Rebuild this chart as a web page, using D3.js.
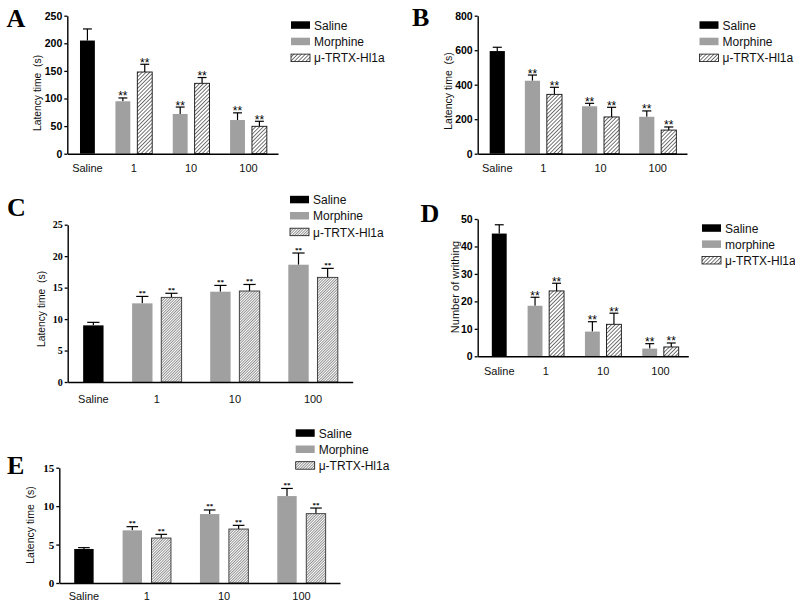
<!DOCTYPE html>
<html><head><meta charset="utf-8">
<script src="https://cdn.jsdelivr.net/npm/d3@7"></script>
<style>body{margin:0;background:#fff}svg{display:block}</style>
</head><body>
<script>
// ---------- DATA ----------
const doses = ["Saline", "1", "10", "100"];
const seriesNames = ["Saline", "Morphine", "μ-TRTX-Hl1a"];
const seriesNamesD = ["Saline", "morphine", "μ-TRTX-Hl1a"];

// Panel A (latency, s)
const A_saline = [205], A_salineErr = [21];
const A_morphine = [95, 72, 61], A_morphineErr = [6, 12.5, 13];
const A_hi1a = [148, 127.5, 49.6], A_hi1aErr = [14, 10.5, 9.1];
const A_ticks = [0, 50, 100, 150, 200, 250];

// Panel B (latency, s)
const B_saline = [595], B_salineErr = [22];
const B_morphine = [423, 275, 214], B_morphineErr = [33, 17, 34];
const B_hi1a = [344, 213, 137], B_hi1aErr = [41, 56, 18];
const B_ticks = [0, 200, 400, 600, 800];

// Panel C (latency, s)
const C_saline = [9.0], C_salineErr = [0.48];
const C_morphine = [12.5, 14.35, 18.64], C_morphineErr = [1.1, 1.0, 1.86];
const C_hi1a = [13.45, 14.46, 16.63], C_hi1aErr = [0.65, 1.04, 1.43];
const C_ticks = [0, 5, 10, 15, 20, 25];

// Panel D (number of writhing)
const D_saline = [44.7], D_salineErr = [3.2];
const D_morphine = [18.4, 9.0, 2.8], D_morphineErr = [3.1, 3.6, 1.8];
const D_hi1a = [23.8, 11.65, 3.4], D_hi1aErr = [2.8, 4.05, 1.45];
const D_ticks = [0, 10, 20, 30, 40, 50];

// Panel E (latency, s)
const E_saline = [4.42], E_salineErr = [0.18];
const E_morphine = [6.85, 8.97, 11.31], E_morphineErr = [0.48, 0.53, 0.99];
const E_hi1a = [5.85, 7.02, 9.02], E_hi1aErr = [0.48, 0.48, 0.73];
const E_ticks = [0, 5, 10, 15];

// ---------- DRAWING ----------
const svg = d3.select("body").append("svg").attr("width", 795).attr("height", 607);
const defs = svg.append("defs");
function hatch(id, spacing, lw, color) {
  const p = defs.append("pattern").attr("id", id).attr("patternUnits", "userSpaceOnUse")
    .attr("width", spacing).attr("height", spacing).attr("patternTransform", "rotate(45)");
  p.append("rect").attr("width", spacing).attr("height", spacing).attr("fill", "#fff");
  p.append("line").attr("x1", 0).attr("y1", 0).attr("x2", 0).attr("y2", spacing)
    .attr("stroke", color).attr("stroke-width", lw);
}
hatch("hatchCoarse", 2.7, 1.15, "#111");
hatch("hatchFine", 1.9, 0.95, "#222");

const SANS = "Arial, 'Liberation Sans', sans-serif";
const SERIF = "'Times New Roman', 'Liberation Serif', serif";
const GRAY = "#a0a0a0";

function drawPanel(cfg) {
  const g = svg.append("g");
  const lastPos = 3 * cfg.gap + 3;
  const x = d3.scaleLinear().domain([-cfg.padL, lastPos + cfg.padR]).range([cfg.x0, cfg.x1]);
  const y = d3.scaleLinear().domain([0, d3.max(cfg.ticks)]).range([cfg.y0, cfg.y1]);

  const bars = [{ pos: 0, v: cfg.saline[0], e: cfg.salineErr[0], s: 0 }];
  for (let i = 0; i < 3; i++) {
    const gi = i + 1;
    bars.push({ pos: gi * cfg.gap + (gi - 1), v: cfg.morphine[i], e: cfg.morphineErr[i], s: 1 });
    bars.push({ pos: gi * cfg.gap + gi, v: cfg.hi1a[i], e: cfg.hi1aErr[i], s: 2 });
  }
  const bw = x(cfg.bw) - x(0);
  const fills = ["#000", GRAY, `url(#${cfg.hatchId})`];

  const capW = bw * 0.6;
  bars.forEach(b => {
    const cx = x(b.pos);
    g.append("line").attr("x1", cx).attr("x2", cx).attr("y1", y(b.v)).attr("y2", y(b.v + b.e))
      .attr("stroke", "#000").attr("stroke-width", 1.2);
    g.append("line").attr("x1", cx - capW / 2).attr("x2", cx + capW / 2)
      .attr("y1", y(b.v + b.e)).attr("y2", y(b.v + b.e)).attr("stroke", "#000").attr("stroke-width", 1.2);
  });
  g.selectAll("rect.bar").data(bars).join("rect").attr("class", "bar")
    .attr("x", d => x(d.pos) - bw / 2).attr("width", bw)
    .attr("y", d => y(d.v)).attr("height", d => y(0) - y(d.v))
    .attr("fill", d => fills[d.s])
    .attr("stroke", d => d.s === 2 ? cfg.hatchStroke : "none")
    .attr("stroke-width", d => d.s === 2 ? 0.9 : 0);

  bars.filter(b => b.s > 0).forEach(b => {
    g.append("text").attr("x", x(b.pos)).attr("y", y(b.v + b.e) + cfg.astDy)
      .attr("text-anchor", "middle").attr("font-family", cfg.astFont).attr("font-weight", cfg.astWeight)
      .attr("font-size", cfg.astSize).attr("fill", "#000").text("**");
  });

  const ya = g.append("g").attr("transform", `translate(${cfg.x0},0)`)
    .call(d3.axisLeft(y).tickValues(cfg.ticks).tickSize(3).tickSizeOuter(0).tickPadding(2));
  ya.select(".domain").attr("stroke-width", 1.4);
  ya.selectAll(".tick line").attr("stroke-width", 1.3);
  ya.selectAll(".tick text").attr("font-family", cfg.tickFont).attr("font-weight", "bold")
    .attr("font-size", cfg.tickSize).attr("fill", "#000");

  const xa = g.append("g").attr("transform", `translate(0,${cfg.y0})`)
    .call(d3.axisBottom(x).tickValues([]).tickSizeOuter(0));
  xa.select(".domain").attr("stroke-width", 1.4);

  const centers = [x(0)];
  for (let gi = 1; gi <= 3; gi++) centers.push((x(gi * cfg.gap + gi - 1) + x(gi * cfg.gap + gi)) / 2);
  doses.forEach((d, i) => {
    g.append("text").attr("x", centers[i]).attr("y", cfg.xLabelY).attr("text-anchor", "middle")
      .attr("font-family", SANS).attr("font-size", 11).attr("fill", "#111").text(d);
  });

  g.append("text").attr("transform", `translate(${cfg.titleX},${cfg.titleY}) rotate(-90)`)
    .attr("text-anchor", "middle").attr("dy", "0.35em").attr("font-family", SANS)
    .attr("font-size", cfg.titleSize).attr("fill", "#111").style("white-space", "pre").text(cfg.title);

  cfg.legendNames.forEach((name, i) => {
    const ly = cfg.legY + i * cfg.legStep;
    g.append("rect").attr("x", cfg.legX).attr("y", ly).attr("width", 19).attr("height", 7.5)
      .attr("fill", fills[i]).attr("stroke", i === 2 ? "#111" : "none").attr("stroke-width", 0.8);
    g.append("text").attr("x", cfg.legX + 23).attr("y", ly + 8.3).attr("font-family", SANS)
      .attr("font-size", 12).attr("fill", "#111").text(name);
  });

  g.append("text").attr("x", cfg.letterX).attr("y", cfg.letterY).attr("font-family", SERIF)
    .attr("font-weight", "bold").attr("font-size", 26).attr("fill", "#000").text(cfg.letter);
}

const sansAst = { astFont: SANS, astWeight: "normal", astSize: 12, astDy: 2.5 };
const serifAst = { astFont: SERIF, astWeight: "bold", astSize: 7, astDy: -1.5 };

drawPanel(Object.assign({
  letter: "A", letterX: 6.5, letterY: 26.5,
  x0: 67.3, x1: 278, y0: 153.7, y1: 15.7, gap: 1.62, bw: 0.68, padL: 0.92, padR: 0.85,
  saline: A_saline, salineErr: A_salineErr, morphine: A_morphine, morphineErr: A_morphineErr,
  hi1a: A_hi1a, hi1aErr: A_hi1aErr, ticks: A_ticks, tickFont: SANS, tickSize: 10.5,
  hatchId: "hatchCoarse", hatchStroke: "#111", xLabelY: 172,
  title: "Latency time  (s)", titleX: 37.7, titleY: 93, titleSize: 10.3,
  legendNames: seriesNames, legX: 291, legY: 21.3, legStep: 16.4
}, sansAst));

drawPanel(Object.assign({
  letter: "B", letterX: 412, letterY: 26,
  x0: 477.7, x1: 687, y0: 153.7, y1: 15.7, gap: 1.6, bw: 0.69, padL: 0.89, padR: 0.83,
  saline: B_saline, salineErr: B_salineErr, morphine: B_morphine, morphineErr: B_morphineErr,
  hi1a: B_hi1a, hi1aErr: B_hi1aErr, ticks: B_ticks, tickFont: SANS, tickSize: 10.5,
  hatchId: "hatchCoarse", hatchStroke: "#111", xLabelY: 172,
  title: "Latency time  (s)", titleX: 448.7, titleY: 91, titleSize: 10.5,
  legendNames: seriesNames, legX: 699.5, legY: 21.3, legStep: 16.4
}, sansAst));

drawPanel(Object.assign({
  letter: "C", letterX: 7, letterY: 216,
  x0: 67.7, x1: 352.7, y0: 382, y1: 224.7, gap: 1.68, bw: 0.70, padL: 0.88, padR: 0.86,
  saline: C_saline, salineErr: C_salineErr, morphine: C_morphine, morphineErr: C_morphineErr,
  hi1a: C_hi1a, hi1aErr: C_hi1aErr, ticks: C_ticks, tickFont: SERIF, tickSize: 10,
  hatchId: "hatchFine", hatchStroke: "#333", xLabelY: 403,
  title: "Latency time  (s)", titleX: 41.7, titleY: 309, titleSize: 10.3,
  legendNames: seriesNames, legX: 290, legY: 195.8, legStep: 16.2
}, serifAst));

drawPanel(Object.assign({
  letter: "D", letterX: 420.5, letterY: 222,
  x0: 477.7, x1: 688.3, y0: 356.3, y1: 219, gap: 1.66, bw: 0.69, padL: 1.0, padR: 0.79,
  saline: D_saline, salineErr: D_salineErr, morphine: D_morphine, morphineErr: D_morphineErr,
  hi1a: D_hi1a, hi1aErr: D_hi1aErr, ticks: D_ticks, tickFont: SANS, tickSize: 10.5,
  hatchId: "hatchCoarse", hatchStroke: "#111", xLabelY: 375,
  title: "Number of writhing", titleX: 455, titleY: 287, titleSize: 11,
  legendNames: seriesNamesD, legX: 702, legY: 224.3, legStep: 16.1
}, sansAst));

drawPanel(Object.assign({
  letter: "E", letterX: 7, letterY: 474,
  x0: 59.3, x1: 340, y0: 583, y1: 467.7, gap: 1.67, bw: 0.67, padL: 0.85, padR: 0.83,
  saline: E_saline, salineErr: E_salineErr, morphine: E_morphine, morphineErr: E_morphineErr,
  hi1a: E_hi1a, hi1aErr: E_hi1aErr, ticks: E_ticks, tickFont: SERIF, tickSize: 11,
  hatchId: "hatchFine", hatchStroke: "#333", xLabelY: 600,
  title: "Latency time  (s)", titleX: 30.7, titleY: 525, titleSize: 10.5,
  legendNames: seriesNames, legX: 295.7, legY: 429.3, legStep: 16.2
}, serifAst));
</script>
</body></html>
